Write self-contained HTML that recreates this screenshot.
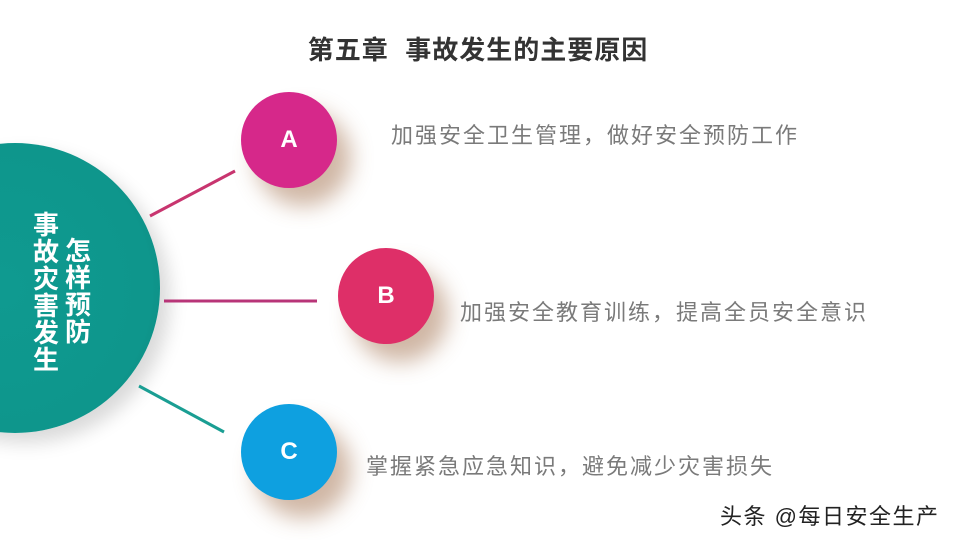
<!DOCTYPE html>
<html><head><meta charset="utf-8"><style>
*{margin:0;padding:0}
body{width:960px;height:540px;background:#fff;position:relative;overflow:hidden;font-family:"Liberation Sans","Noto Sans CJK SC",sans-serif}
.t{position:absolute;white-space:nowrap}
.c{position:absolute;width:96px;height:96px;border-radius:50%;color:#fff;font-weight:bold;font-size:24px;line-height:96px;text-align:center;box-shadow:14px 18px 22px rgba(150,95,55,0.45)}
.g{font-size:22px;letter-spacing:2px;color:#7a7a7a}
</style></head><body>
<div class="t" style="left:0;width:956px;text-align:center;top:30px;font-size:26px;font-weight:bold;color:#333;letter-spacing:1px">第五章&nbsp; 事故发生的主要原因</div>
<div style="position:absolute;left:-130px;top:143px;width:290px;height:290px;border-radius:50%;background:radial-gradient(circle at 45% 50%,#0f9a90 0%,#0e968c 70%,#087a70 100%);box-shadow:10px 10px 18px rgba(0,0,0,0.15)"></div>
<div class="t" style="left:32px;top:212px;width:28px;font-size:26px;font-weight:bold;color:#fff;line-height:27px;white-space:normal;text-align:center">事故灾害发生</div>
<div class="t" style="left:64px;top:238px;width:28px;font-size:26px;font-weight:bold;color:#fff;line-height:27px;white-space:normal;text-align:center">怎样预防</div>
<svg style="position:absolute;left:0;top:0" width="960" height="540">
<line x1="150" y1="216" x2="235" y2="171" stroke="#c8356f" stroke-width="3"/>
<line x1="164" y1="301" x2="317" y2="301" stroke="#b83578" stroke-width="3"/>
<line x1="139" y1="386" x2="224" y2="432" stroke="#1a9e93" stroke-width="3"/>
</svg>
<div class="c" style="left:241px;top:92px;background:#d6288a">A</div>
<div class="c" style="left:338px;top:248px;background:#de2f68">B</div>
<div class="c" style="left:241px;top:404px;background:#0ea0e0">C</div>
<div class="t g" style="left:391px;top:118px">加强安全卫生管理，做好安全预防工作</div>
<div class="t g" style="left:460px;top:295px">加强安全教育训练，提高全员安全意识</div>
<div class="t g" style="left:366px;top:449px">掌握紧急应急知识，避免减少灾害损失</div>
<div class="t" style="left:720px;top:499px;font-size:22px;letter-spacing:1.5px;color:#222">头条 @每日安全生产</div>
</body></html>
